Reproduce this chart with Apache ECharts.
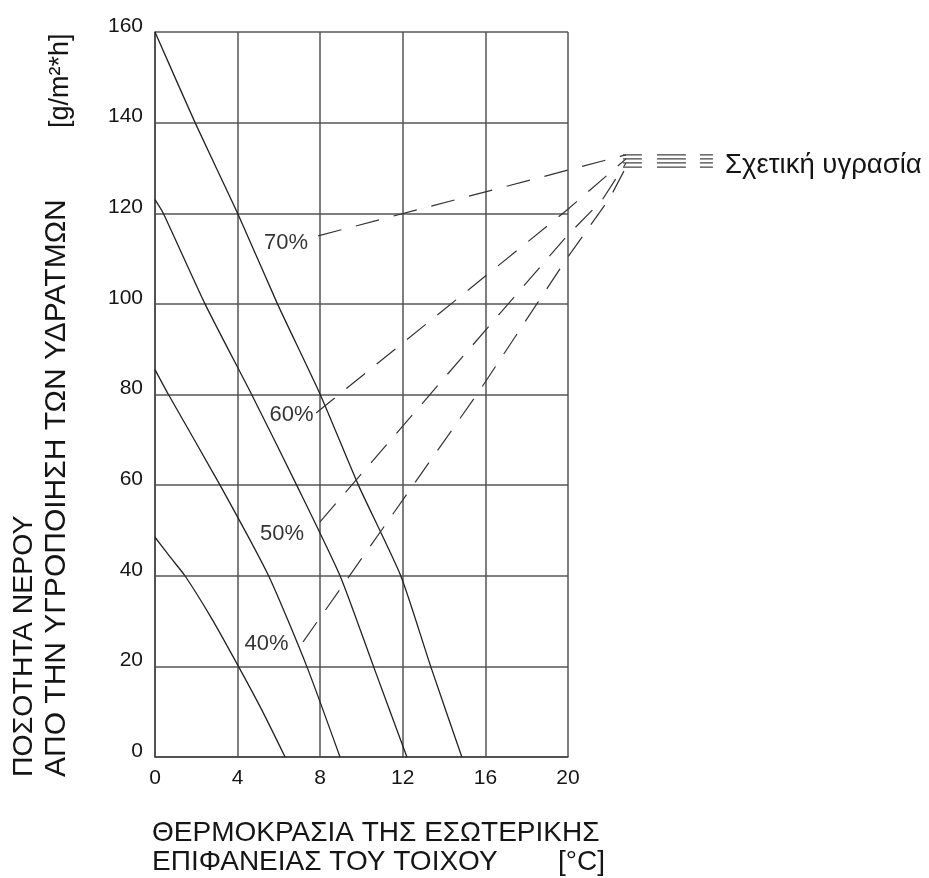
<!DOCTYPE html>
<html><head><meta charset="utf-8">
<script src="https://cdn.jsdelivr.net/npm/echarts@6/dist/echarts.min.js"></script>
<style>html,body{margin:0;padding:0;background:#fff}#c{width:929px;height:878px}</style>
</head><body><div id="c"></div>
<script>
// Axis ticks
const xTicks = [0, 4, 8, 12, 16, 20];
const yTicks = [0, 20, 40, 60, 80, 100, 120, 140, 160];

// Curves: water quantity vs inner wall surface temperature, per relative humidity
const rh70 = [[0,160],[1.94,140],[4.0,120],[5.93,100],[8.0,80],[9.85,60],[11.9,40],[13.35,20],[14.86,0]];
const rh60 = [[0,123],[0.4,120],[2.42,100],[4.68,80],[6.86,60],[8.96,40],[10.58,20],[12.2,0]];
const rh50 = [[0,85.5],[0.65,80],[3.15,60],[5.5,40],[7.35,20],[8.96,0]];
const rh40 = [[0,48.5],[0.72,44.2],[1.45,40],[2.74,30.6],[4.04,20],[5.17,10.4],[6.3,0]];

// Curve labels
const curveNames = ['70%', '60%', '50%', '40%'];
const labelAt = [[6.34,113.4],[6.61,75.5],[6.15,49.2],[5.40,24.9]];

// Leader lines from labels to the legend text (extend beyond x = 20)
const lead70 = [[7.9,115.0],[22.81,132.9]];
const lead60 = [[7.8,75.9],[19.95,120.7],[22.81,132.0]];
const lead50 = [[7.99,51.9],[19.95,115.0],[21.65,122.9],[22.81,131.1]];
const lead40 = [[7.17,25.4],[15.74,81.0],[20.0,110.4],[22.03,123.4],[22.81,130.2]];
const bundleY = [132.9, 132.0, 131.1, 130.2];
const bundleX = [22.66, 27.03];

const FONT = "'Liberation Sans', Arial, sans-serif";
const ink = '#151515';

const chart = echarts.init(document.getElementById('c'));

const curveSeries = [rh70, rh60, rh50, rh40].map(d => ({
  type: 'line', data: d, symbol: 'none', smooth: 0.2,
  lineStyle: { color: '#222', width: 1.3 }, silent: true
}));
const leadSeries = [lead70, lead60, lead50, lead40].map(d => ({
  type: 'line', data: d, symbol: 'none', xAxisIndex: 1, yAxisIndex: 1,
  lineStyle: { color: '#333', width: 1.2, type: [24, 15] }, silent: true
}));
const bundleSeries = bundleY.map(y => ({
  type: 'line', data: [[bundleX[0], y], [bundleX[1], y]], symbol: 'none', xAxisIndex: 1, yAxisIndex: 1,
  lineStyle: { color: '#444', width: 1.2, type: [19, 15, 29, 14, 13, 300] }, silent: true
}));
const labelSeries = {
  type: 'scatter', symbolSize: 1, itemStyle: { color: 'rgba(0,0,0,0)' },
  data: curveNames.map((n, i) => ({ name: n, value: labelAt[i] })),
  label: { show: true, position: 'inside', formatter: '{b}', color: '#000', fontSize: 22, fontFamily: FONT },
  silent: true
};

chart.setOption({
  animation: false,
  backgroundColor: '#fff',
  grid: [
    { left: 155, top: 32, width: 413, height: 725 },
    { left: 155, top: 32, width: 413 * 28 / 20, height: 725 }
  ],
  xAxis: [{
    type: 'value', min: 0, max: 20, interval: 4,
    axisLine: { show: true, lineStyle: { color: '#444', width: 1.5 } },
    axisTick: { show: false },
    splitLine: { show: true, lineStyle: { color: '#555', width: 1.5 } },
    axisLabel: { fontSize: 21, color: ink, margin: 11, fontFamily: FONT }
  }, {
    type: 'value', gridIndex: 1, min: 0, max: 28, show: false
  }],
  yAxis: [{
    type: 'value', min: 0, max: 160, interval: 20,
    axisLine: { show: true, lineStyle: { color: '#444', width: 1.5 } },
    axisTick: { show: false },
    splitLine: { show: true, lineStyle: { color: '#555', width: 1.5 } },
    axisLabel: { fontSize: 21, color: ink, margin: 12, fontFamily: FONT, verticalAlign: 'bottom', lineHeight: 12 }
  }, {
    type: 'value', gridIndex: 1, min: 0, max: 160, show: false
  }],
  series: [...curveSeries, ...leadSeries, ...bundleSeries, labelSeries],
  graphic: [
    { type: 'text', x: 24, y: 777, rotation: Math.PI / 2,
      style: { text: 'ΠΟΣΟΤΗΤΑ ΝΕΡΟΥ', x: 0, y: 0, align: 'left', verticalAlign: 'middle', fill: ink, font: '28.5px ' + FONT } },
    { type: 'text', x: 57, y: 777, rotation: Math.PI / 2,
      style: { text: 'ΑΠΟ ΤΗΝ ΥΓΡΟΠΟΙΗΣΗ ΤΩΝ ΥΔΡΑΤΜΩΝ', x: 0, y: 0, align: 'left', verticalAlign: 'middle', fill: ink, font: '30px ' + FONT } },
    { type: 'text', x: 61, y: 128, rotation: Math.PI / 2,
      style: { text: '[g/m²*h]', x: 0, y: 0, align: 'left', verticalAlign: 'middle', fill: ink, font: '27px ' + FONT } },
    { type: 'text', x: 152, y: 833,
      style: { text: 'ΘΕΡΜΟΚΡΑΣΙΑ ΤΗΣ ΕΣΩΤΕΡΙΚΗΣ', x: 0, y: 0, align: 'left', verticalAlign: 'middle', fill: ink, font: '28px ' + FONT } },
    { type: 'text', x: 152, y: 862,
      style: { text: 'ΕΠΙΦΑΝΕΙΑΣ ΤΟΥ ΤΟΙΧΟΥ', x: 0, y: 0, align: 'left', verticalAlign: 'middle', fill: ink, font: '28px ' + FONT } },
    { type: 'text', x: 558, y: 862,
      style: { text: '[°C]', x: 0, y: 0, align: 'left', verticalAlign: 'middle', fill: ink, font: '28px ' + FONT } },
    { type: 'text', x: 725, y: 165,
      style: { text: 'Σχετική υγρασία', x: 0, y: 0, align: 'left', verticalAlign: 'middle', fill: ink, font: '27.5px ' + FONT } }
  ]
});
</script>
</body></html>
